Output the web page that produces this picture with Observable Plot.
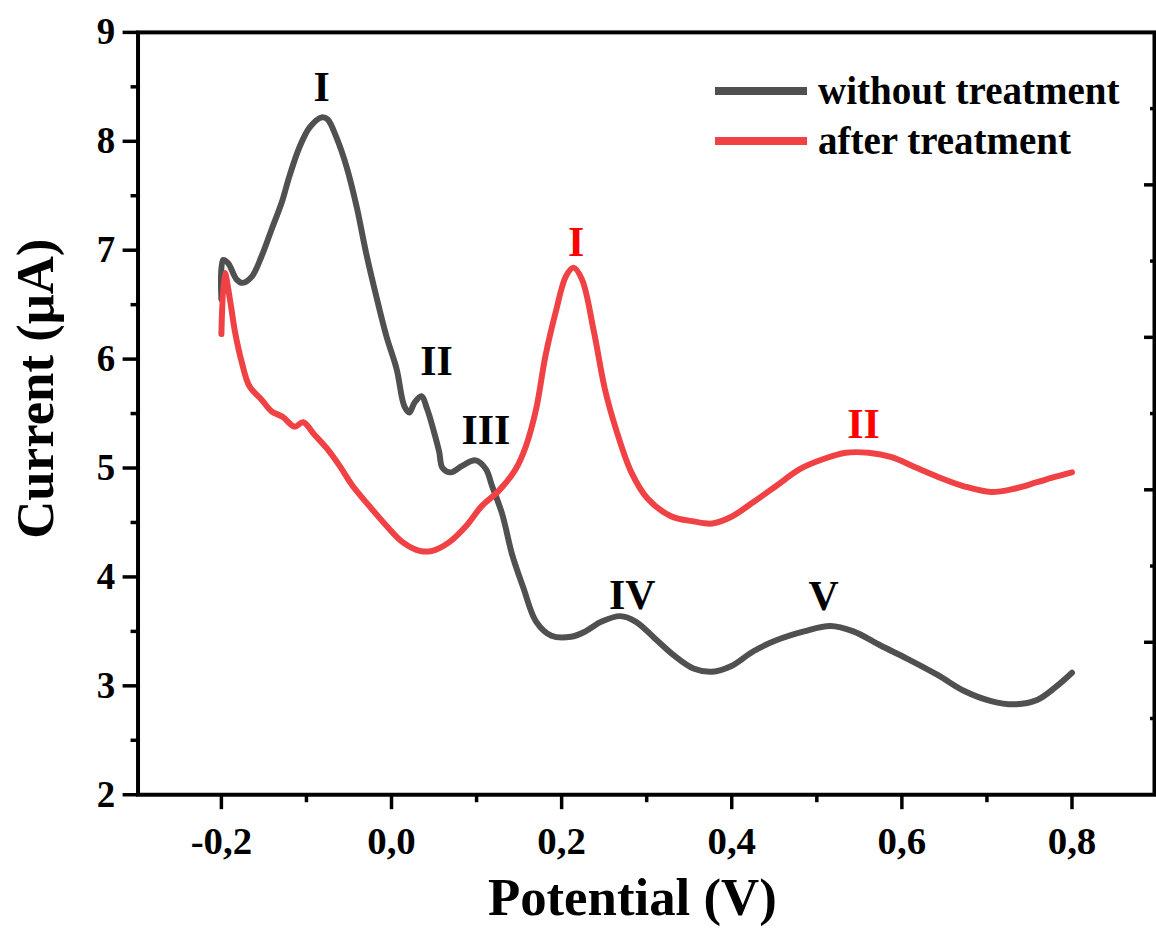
<!DOCTYPE html>
<html><head><meta charset="utf-8">
<script src="https://cdn.jsdelivr.net/npm/d3@7"></script>
<script src="https://cdn.jsdelivr.net/npm/@observablehq/plot@0.6"></script>
<style>
html,body{margin:0;padding:0;background:#fff;overflow:hidden;}
#wrap{position:relative;width:1156px;height:930px;overflow:hidden;}
#wrap svg text{font-family:"Liberation Serif","Times New Roman",Times,"DejaVu Serif",serif !important;}
#legend{position:absolute;left:715px;top:66px;font-family:"Liberation Serif","Times New Roman",Times,"DejaVu Serif",serif;font-weight:bold;font-size:39px;line-height:50px;color:#000;}
.row{display:flex;align-items:center;height:50px;}
.sw{width:92px;height:8px;margin-right:11px;}
</style></head><body><div id="wrap"><div id="legend"></div></div>
<script>
const seriesNames = ["without treatment", "after treatment"];
const seriesColors = ["#505050", "#F04245"];
const labelColors = ["#000000", "#FF0000"];

const potentialWithout = [-0.200,-0.198,-0.192,-0.182,-0.175,-0.164,-0.153,-0.141,-0.129,-0.120,-0.108,-0.096,-0.082,-0.075,-0.065,-0.053,-0.041,-0.030,-0.018,-0.006,0.006,0.015,0.021,0.027,0.035,0.042,0.050,0.056,0.060,0.070,0.083,0.099,0.111,0.118,0.130,0.142,0.155,0.170,0.188,0.211,0.228,0.247,0.269,0.287,0.309,0.332,0.355,0.377,0.399,0.426,0.453,0.485,0.516,0.543,0.575,0.606,0.642,0.674,0.705,0.732,0.759,0.781,0.800];
const currentWithout = [6.55,6.91,6.88,6.73,6.70,6.76,6.94,7.19,7.44,7.68,7.95,8.13,8.22,8.20,8.04,7.77,7.40,6.98,6.58,6.21,5.91,5.57,5.51,5.60,5.66,5.54,5.33,5.15,5.00,4.96,5.02,5.07,4.99,4.84,4.58,4.20,3.90,3.59,3.46,3.45,3.50,3.59,3.64,3.59,3.44,3.28,3.16,3.13,3.18,3.32,3.42,3.50,3.55,3.50,3.37,3.25,3.10,2.95,2.86,2.83,2.87,2.99,3.12];

const potentialAfter = [-0.200,-0.196,-0.190,-0.184,-0.176,-0.167,-0.153,-0.141,-0.128,-0.114,-0.104,-0.090,-0.076,-0.061,-0.046,-0.026,-0.006,0.013,0.033,0.048,0.068,0.088,0.106,0.126,0.146,0.158,0.170,0.181,0.193,0.205,0.214,0.224,0.238,0.251,0.265,0.282,0.301,0.328,0.355,0.377,0.399,0.426,0.453,0.480,0.507,0.534,0.561,0.588,0.615,0.642,0.674,0.705,0.732,0.759,0.781,0.800];
const currentAfter = [6.23,6.79,6.55,6.25,5.97,5.75,5.63,5.52,5.47,5.38,5.42,5.30,5.18,5.02,4.84,4.65,4.47,4.32,4.24,4.24,4.32,4.47,4.65,4.79,4.99,5.20,5.54,6.03,6.43,6.76,6.84,6.73,6.25,5.72,5.33,4.96,4.72,4.56,4.51,4.49,4.55,4.69,4.84,4.99,5.08,5.14,5.14,5.10,5.01,4.92,4.83,4.78,4.81,4.87,4.92,4.96];

const peakLabels = ["I", "II", "III", "IV", "V", "I", "II"];
const peakX = [-0.082, 0.053, 0.111, 0.283, 0.508, 0.217, 0.555];
const peakY = [8.49, 5.98, 5.34, 3.83, 3.82, 7.07, 5.40];
const peakSeries = [0, 0, 0, 0, 0, 1, 1];

const xMajorTicks = [-0.2, 0.0, 0.2, 0.4, 0.6, 0.8];
const xMinorTicks = [-0.1, 0.1, 0.3, 0.5, 0.7];
const yMajorTicks = [2, 3, 4, 5, 6, 7, 8, 9];
const yMinorTicks = [2.5, 3.5, 4.5, 5.5, 6.5, 7.5, 8.5];
const rightMajorTicks = [3.4, 4.8, 6.2, 7.6];
const rightMinorTicks = [2.7, 4.1, 5.5, 6.9, 8.3];
const xTitle = "Potential (V)";
const yTitle = "Current (μA)";

const lineData = [];
potentialWithout.forEach((x, i) => lineData.push({s: 0, x, y: currentWithout[i]}));
potentialAfter.forEach((x, i) => lineData.push({s: 1, x, y: currentAfter[i]}));
const labelData = peakLabels.map((t, i) => ({t, x: peakX[i], y: peakY[i], c: labelColors[peakSeries[i]]}));
const fmtX = d => d3.format(".1f")(d).replace(".", ",").replace("−", "-");
const fmtY = d => d3.format("d")(d);

const chart = Plot.plot({
  width: 1160, height: 930,
  marginLeft: 138, marginRight: 2, marginTop: 32, marginBottom: 133,
  style: {fontWeight: "bold", color: "#000", background: "#fff"},
  x: {domain: [-0.298, 0.897]},
  y: {domain: [2, 9]},
  marks: [
    Plot.line(lineData.filter(d => d.s === 0), {x: "x", y: "y", stroke: seriesColors[0], strokeWidth: 6, curve: "catmull-rom"}),
    Plot.line(lineData.filter(d => d.s === 1), {x: "x", y: "y", stroke: seriesColors[1], strokeWidth: 6, curve: "catmull-rom"}),
    Plot.text(labelData, {x: "x", y: "y", text: "t", fill: "c", fontSize: 42, fontWeight: "bold"}),
    Plot.axisX({ticks: xMajorTicks, tickSize: 15, tickPadding: 17, tickFormat: fmtX, fontSize: 39, strokeWidth: 3.5, label: null}),
    Plot.axisX({ticks: xMinorTicks, tickSize: 8, tickFormat: () => "", strokeWidth: 3.5, label: null}),
    Plot.axisY({ticks: yMajorTicks, tickSize: 15, tickPadding: 8, tickFormat: fmtY, fontSize: 37, strokeWidth: 3.5, label: null}),
    Plot.axisY({ticks: yMinorTicks, tickSize: 7, tickFormat: () => "", strokeWidth: 3.5, label: null}),
    Plot.axisY({anchor: "right", ticks: rightMajorTicks, tickSize: -11, tickFormat: () => "", strokeWidth: 3.5, label: null}),
    Plot.axisY({anchor: "right", ticks: rightMinorTicks, tickSize: -5, tickFormat: () => "", strokeWidth: 3.5, label: null}),
    Plot.frame({stroke: "#000", strokeWidth: 4}),
    Plot.text([xTitle], {frameAnchor: "bottom", textAnchor: "middle", dy: 121, dx: -14, fontSize: 53, fontWeight: "bold"}),
    Plot.text([yTitle], {frameAnchor: "left", textAnchor: "middle", dx: -102, dy: -25, rotate: -90, fontSize: 53, fontWeight: "bold"})
  ]
});
document.getElementById("wrap").prepend(chart);

const legend = document.getElementById("legend");
seriesNames.forEach((name, i) => {
  const row = document.createElement("div");
  row.className = "row";
  const sw = document.createElement("span");
  sw.className = "sw";
  sw.style.background = seriesColors[i];
  const tx = document.createElement("span");
  tx.textContent = name;
  row.append(sw, tx);
  legend.append(row);
});
</script></body></html>
